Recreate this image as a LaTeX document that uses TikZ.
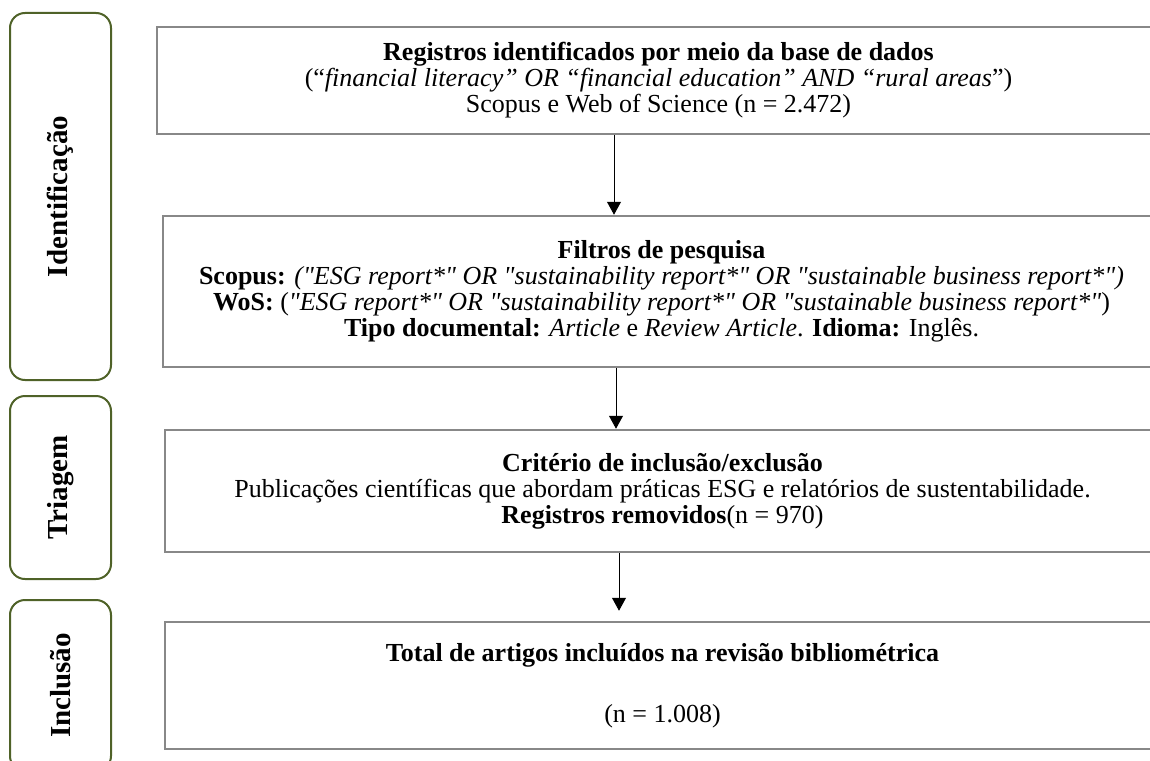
\documentclass[tikz,border=0pt]{standalone}
\usepackage{fontspec}
\setmainfont{Liberation Serif}[Ligatures=TeXOff]
\usetikzlibrary{arrows.meta}
\definecolor{stagegreen}{HTML}{4F6228}
\definecolor{boxgray}{HTML}{888888}
\begin{document}
\begin{tikzpicture}[x=1pt,y=-1pt,
  stage/.style={draw=stagegreen, line width=2pt, rounded corners=15pt, rotate=90,
    font=\fontsize{29}{32}\selectfont\bfseries, inner sep=0pt},
  mainbox/.style={draw=boxgray, line width=2.5pt, align=center, inner sep=0pt,
    font=\fontsize{26}{26}\selectfont},
  arr/.style={line width=1pt, -{Triangle[length=13pt,width=14pt]}}]
\useasboundingbox (0,0) rectangle (1150,760);
\clip (0,0) rectangle (1150,760);

% stage boxes
\node[stage, minimum width=367pt, minimum height=101pt] (s1) at (60.5,196.5) {Identificação};
\node[stage, minimum width=183pt, minimum height=101pt] (s2) at (60.5,487.5) {Triagem};
\node[stage, minimum width=171pt, minimum height=101pt] (s3) at (60.5,685.5) {Inclusão};

% main boxes
\node[mainbox, minimum width=1003pt, minimum height=107pt] (b1) at (658.5,80.5)
  {\textbf{Registros identificados por meio da base de dados}\\
   (“\textit{financial literacy” OR “financial education” AND “rural areas}”)\\
   Scopus e Web of Science (n = 2.472)};
\node[mainbox, minimum width=997pt, minimum height=151pt] (b2) at (661.5,291.5)
  {\textbf{Filtros de pesquisa}\\
   \textbf{Scopus:} \textit{("ESG report*" OR "sustainability report*" OR "sustainable business report*")}\\
   \textbf{WoS:} (\textit{"ESG report*" OR "sustainability report*" OR "sustainable business report*"})\\
   \textbf{Tipo documental:} \textit{Article} e \textit{Review Article}. \textbf{Idioma:} Inglês.};
\node[mainbox, minimum width=995pt, minimum height=122pt] (b3) at (662.5,491)
  {\textbf{Critério de inclusão/exclusão}\\
   Publicações científicas que abordam práticas ESG e relatórios de sustentabilidade.\\
   \textbf{Registros removidos}(n = 970)};
\node[mainbox, minimum width=995pt, minimum height=127pt] (b4) at (662.5,685.5)
  {\textbf{Total de artigos incluídos na revisão bibliométrica}\\[35pt]
   (n = 1.008)};

% arrows
\draw[arr] (b1.south -| 614,0) -- (b2.north -| 614,0);
\draw[arr] (b2.south -| 616,0) -- (b3.north -| 616,0);
\draw[arr, shorten >=10pt] (b3.south -| 619,0) -- (b4.north -| 619,0);
\end{tikzpicture}
\end{document}
